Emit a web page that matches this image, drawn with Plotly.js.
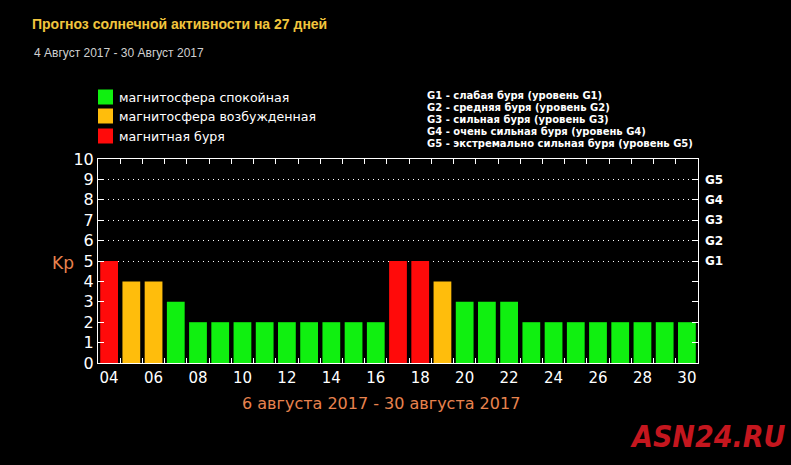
<!DOCTYPE html>
<html>
<head>
<meta charset="utf-8">
<script src="https://cdn.plot.ly/plotly-3.0.1.min.js"></script>
<style>
html,body{margin:0;padding:0;background:#000;}
#chart{width:791px;height:465px;}
</style>
</head>
<body>
<div id="chart"></div>
<script>
// ---- data ----
const days = [4,5,6,7,8,9,10,11,12,13,14,15,16,17,18,19,20,21,22,23,24,25,26,27,28,29,30];
const kp   = [5,4,4,3,2,2,2,2,2,2,2,2,2,5,5,4,3,3,3,2,2,2,2,2,2,2,2];
const status = ['storm','excited','excited','calm','calm','calm','calm','calm','calm','calm','calm','calm','calm',
                'storm','storm','excited','calm','calm','calm','calm','calm','calm','calm','calm','calm','calm','calm'];
const xTickVals = [4,6,8,10,12,14,16,18,20,22,24,26,28,30];
const xTickText = ['04','06','08','10','12','14','16','18','20','22','24','26','28','30'];
const yTickVals = [0,1,2,3,4,5,6,7,8,9,10];
const gTickVals = [5,6,7,8,9];
const gTickText = ['G1','G2','G3','G4','G5'];
const legendKeys = ['calm','excited','storm'];
const legendLabels = ['магнитосфера спокойная','магнитосфера возбужденная','магнитная буря'];
const gLegend = ['G1 - слабая буря (уровень G1)','G2 - средняя буря (уровень G2)','G3 - сильная буря (уровень G3)',
                 'G4 - очень сильная буря (уровень G4)','G5 - экстремально сильная буря (уровень G5)'];
const titleText = 'Прогноз солнечной активности на 27 дней';
const subtitleText = '4 Август 2017 - 30 Август 2017';
const xTitleText = '6 августа 2017 - 30 августа 2017';

// ---- style ----
const colorMap = {calm:'#10f010', excited:'#ffbd0c', storm:'#ff0a0a'};
const W = 791, H = 465;
const L = 98, R = 698, T = 159, B = 363;
const px = x => (x - L) / (R - L);
const py = y => (B - y) / (B - T);
const boundaries = days.map(d => d - 0.5).concat([days[days.length-1] + 0.5]);
const xr = [days[0] - 0.5, days[days.length-1] + 0.5];

const trace = {
  type:'bar', x: days, y: kp,
  marker:{color: status.map(s => colorMap[s]), line:{width:0}},
  width: 0.8, hoverinfo:'skip', showlegend:false
};
// empty trace that only registers the overlaid frame/ticks axes
const axisHolder = {type:'scatter', mode:'markers', x:[], y:[], xaxis:'x2', yaxis:'y2', hoverinfo:'skip', showlegend:false};

const annotations = [];
const shapes = [];
annotations.push({xref:'paper', yref:'paper', x:px(32), y:py(53), xanchor:'left', yanchor:'middle',
  text: subtitleText, showarrow:false, font:{family:'Liberation Sans, Arial', size:12, color:'#d0d0d0'}});
const legY = [97, 116, 136];
legendKeys.forEach((k,i) => {
  shapes.push({type:'rect', xref:'paper', yref:'paper', x0:px(98), x1:px(113), y0:py(legY[i]-7.5), y1:py(legY[i]+7.5),
    fillcolor: colorMap[k], line:{width:0}});
  annotations.push({xref:'paper', yref:'paper', x:px(117), y:py(legY[i]), xanchor:'left', yanchor:'middle',
    text: legendLabels[i], showarrow:false, font:{family:'DejaVu Sans', size:12.6, color:'#ffffff'}});
});
const gY = [95, 107, 119, 131, 143];
gLegend.forEach((t,i) => {
  annotations.push({xref:'paper', yref:'paper', x:px(425), y:py(gY[i]), xanchor:'left', yanchor:'middle',
    text: t, showarrow:false, font:{family:'DejaVu Sans', weight:'bold', size:10, color:'#ffffff'}});
});
annotations.push({xref:'paper', yref:'paper', x:px(62.5), y:py(263), xanchor:'center', yanchor:'middle',
  text:'Kp', showarrow:false, font:{family:'DejaVu Sans', size:17, color:'#e8834e'}});
annotations.push({xref:'paper', yref:'paper', x:px(381), y:py(403), xanchor:'center', yanchor:'middle',
  text:xTitleText, showarrow:false, font:{family:'DejaVu Sans', size:16, color:'#e8834e'}});
annotations.push({xref:'paper', yref:'paper', x:px(708), y:py(436), xanchor:'center', yanchor:'middle',
  text:'ASN24.RU', showarrow:false, font:{family:'DejaVu Sans Condensed, DejaVu Sans', weight:'bold', style:'italic', size:30, color:'#c4161e'}});

const layout = {
  width:W, height:H,
  paper_bgcolor:'#000000', plot_bgcolor:'#000000',
  margin:{l:L, r:W-R, t:T, b:H-B, pad:0},
  title:{text:titleText, xref:'container', yref:'container', x:32/W, y:1-24/H, xanchor:'left', yanchor:'middle',
    font:{family:'Liberation Sans, Arial', weight:'bold', size:14, color:'#f2c53d'}},
  showlegend:false,
  barmode:'overlay',
  xaxis:{range:xr, tickvals:xTickVals, ticktext:xTickText, ticks:'', showline:false, showgrid:false, zeroline:false,
    tickfont:{family:'DejaVu Sans', size:15, color:'#ffffff'}, ticklabelstandoff:4, fixedrange:true},
  xaxis2:{overlaying:'x', anchor:'y', side:'bottom', range:xr, tickvals:boundaries, ticks:'inside', ticklen:5,
    tickcolor:'#ffffff', tickwidth:1, showline:true, linecolor:'#ffffff', linewidth:1, mirror:'ticks',
    showticklabels:false, showgrid:false, zeroline:false, fixedrange:true},
  yaxis:{range:[0,10], tickvals:yTickVals, ticks:'inside', ticklen:6, tickcolor:'#ffffff', tickwidth:1,
    showline:true, linecolor:'#ffffff', linewidth:1, mirror:'ticks', showgrid:false, zeroline:false,
    tickfont:{family:'DejaVu Sans', size:16, color:'#ffffff'}, ticklabelstandoff:0, fixedrange:true},
  yaxis2:{overlaying:'y', anchor:'x', side:'right', range:[0,10], tickvals:gTickVals, ticktext:gTickText,
    ticks:'', showline:false, showgrid:true, gridcolor:'#ffffff', gridwidth:1, griddash:'1px,4px', zeroline:false,
    tickfont:{family:'DejaVu Sans', weight:'bold', size:12, color:'#ffffff'}, ticklabelstandoff:6, fixedrange:true},
  shapes: shapes,
  annotations: annotations
};

Plotly.newPlot('chart', [trace, axisHolder], layout, {displayModeBar:false, staticPlot:true});
</script>
</body>
</html>
